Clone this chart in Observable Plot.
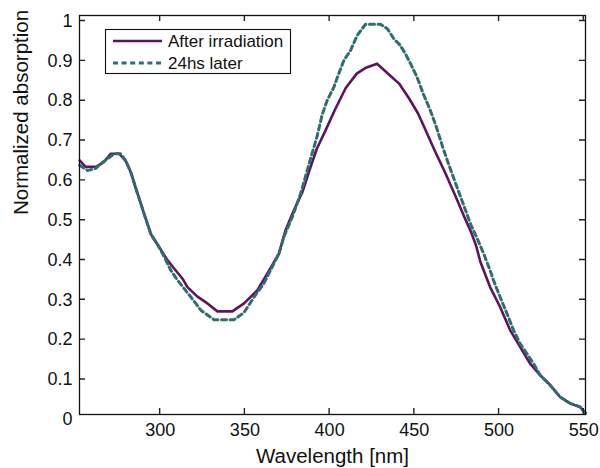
<!DOCTYPE html>
<html><head><meta charset="utf-8">
<script src="https://cdn.jsdelivr.net/npm/d3@7"></script>
<script src="https://cdn.jsdelivr.net/npm/@observablehq/plot@0.6"></script>
<style>body{margin:0;background:#fff;}</style>
</head><body><div id="chart"></div>
<script>
// ---- data ----
const seriesNames = ["After irradiation", "24hs later"];
const wlIrr  = [252.5,256,262,266.8,270.9,275.8,279.8,282.7,286.7,290.6,294.5,299,304.4,308,313.2,316.1,322,327.9,333.8,342.6,349.5,357.4,363.2,370.1,374,378.9,383.9,388.5,392.5,397,403,409.5,416,421,428,435,441,447,452.2,456,462,468,474,479.5,483.5,486.5,489,494.7,500.6,506.5,512.4,518.3,524.2,530.1,536,541.9,547.8,551];
const absIrr = [0.650,0.634,0.634,0.646,0.667,0.667,0.648,0.620,0.566,0.515,0.465,0.435,0.399,0.380,0.353,0.332,0.308,0.291,0.271,0.271,0.291,0.324,0.366,0.416,0.475,0.525,0.570,0.630,0.680,0.720,0.776,0.832,0.868,0.882,0.893,0.866,0.843,0.805,0.768,0.732,0.675,0.621,0.563,0.508,0.470,0.435,0.395,0.332,0.282,0.224,0.182,0.140,0.111,0.086,0.056,0.040,0.031,0.015];
const wl24   = [252.5,257.2,262,265,272.9,276.8,279.8,282.7,286.7,290.6,294.5,299,302.4,306.3,310.3,318.1,324,331.8,343.6,349.5,355.4,361.2,367.1,370.1,373,378,382.9,385.8,388.8,392.7,395.6,398.6,402.5,405.4,408.4,412.3,416.3,419.2,421.2,430,434,438,441.5,444.7,448,451.5,455.5,459.5,463,467,471.2,475.5,479.5,483.5,487.5,491,494.7,496.7,500.6,504.6,508.5,512.4,516.4,520.3,524.2,530.1,536,541.9,547.8,551];
const abs24  = [0.638,0.625,0.630,0.642,0.667,0.667,0.648,0.620,0.566,0.515,0.465,0.435,0.408,0.374,0.349,0.307,0.274,0.250,0.250,0.268,0.307,0.341,0.391,0.416,0.458,0.508,0.567,0.610,0.655,0.712,0.765,0.801,0.834,0.868,0.901,0.926,0.964,0.981,0.992,0.992,0.981,0.955,0.940,0.918,0.891,0.860,0.815,0.775,0.734,0.680,0.629,0.579,0.533,0.487,0.450,0.415,0.374,0.349,0.307,0.266,0.224,0.190,0.165,0.140,0.111,0.086,0.056,0.040,0.031,0.015];
const xTicks = [300,350,400,450,500,550];
const yTicks = [0,0.1,0.2,0.3,0.4,0.5,0.6,0.7,0.8,0.9,1];
const xLabel = "Wavelength [nm]";
const yLabel = "Normalized absorption";

// ---- layout / style ----
const W = 600, H = 468;
const mT = 15, mR = 15, mB = 54, mL = 79;
const colIrr = "#5e1262", col24 = "#2e6e6e";
const font = "'Liberation Sans', Arial, Helvetica, sans-serif";
const tickLen = 6;
const xDom = [252.4, 551], yDom = [0.012, 1.014];
const xs = d3.scaleLinear(xDom, [mL, W - mR]);
const ys = d3.scaleLinear(yDom, [H - mB, mT]);

const irr = wlIrr.map((w, i) => ({w, a: absIrr[i]}));
const later = wl24.map((w, i) => ({w, a: abs24[i]}));

const chart = Plot.plot({
  width: W, height: H,
  marginTop: mT, marginRight: mR, marginBottom: mB, marginLeft: mL,
  style: {fontFamily: font, background: "#fff", color: "#111"},
  x: {domain: xDom},
  y: {domain: yDom},
  marks: [
    Plot.line(irr, {x: "w", y: "a", stroke: colIrr, strokeWidth: 2.6}),
    Plot.line(later, {x: "w", y: "a", stroke: col24, strokeWidth: 3, strokeDasharray: "5,3.6"}),
    Plot.frame({stroke: "#111", strokeWidth: 1.3}),
    Plot.axisX({ticks: xTicks, anchor: "bottom", tickSize: 0, tickPadding: 9, fontSize: 18, label: null, tickFormat: d => String(d)}),
    Plot.axisY({ticks: yTicks, anchor: "left", tickSize: 0, tickPadding: 7, fontSize: 18, label: null, tickFormat: d => String(d)}),
    Plot.text([xLabel], {frameAnchor: "bottom", dy: 34, lineAnchor: "top", fontSize: 20.5, fill: "#111"}),
    Plot.text([yLabel], {frameAnchor: "left", dx: -58, rotate: -90, fontSize: 20.5, fill: "#111"})
  ]
});

const svgEl = chart.tagName.toLowerCase() === "svg" ? chart : chart.querySelector("svg");
const svg = d3.select(svgEl);
const ns = "http://www.w3.org/2000/svg";

// ---- inward tick marks on all four sides (scale from Plot if available) ----
let px = xs, py = ys;
try {
  const sx = chart.scale("x"), sy = chart.scale("y");
  if (sx && typeof sx.apply === "function" && isFinite(sx.apply(300))) { px = v => sx.apply(v); py = v => sy.apply(v); }
} catch (e) {}
const xL = px(xDom[0]), xR = px(xDom[1]);
const yB = py(yDom[0]), yT = py(yDom[1]);
let d = "";
xTicks.forEach(v => {
  const x = px(v);
  d += `M${x},${yB}V${yB - tickLen}M${x},${yT}V${yT + tickLen}`;
});
yTicks.filter(v => v > yDom[0]).forEach(v => {
  const y = py(v);
  d += `M${xL},${y}H${xL + tickLen}M${xR},${y}H${xR - tickLen}`;
});
const tp = document.createElementNS(ns, "path");
tp.setAttribute("d", d);
tp.setAttribute("fill", "none");
tp.setAttribute("stroke", "#222");
tp.setAttribute("stroke-width", "1.4");
svgEl.appendChild(tp);

// ---- legend (inside the plot, top-left) ----
const lg = svg.append("g").attr("font-family", font).attr("font-size", 17).attr("text-anchor", "start");
lg.append("rect").attr("x", 105.5).attr("y", 29.5).attr("width", 185).attr("height", 44)
  .attr("fill", "#fff").attr("stroke", "#111").attr("stroke-width", 1.1);
const rows = [
  {name: seriesNames[0], color: colIrr, dash: null, sw: 2.6, y: 41},
  {name: seriesNames[1], color: col24, dash: "5,3.6", sw: 3, y: 63}
];
rows.forEach(r => {
  lg.append("line").attr("x1", 113).attr("x2", 162).attr("y1", r.y).attr("y2", r.y)
    .attr("stroke", r.color).attr("stroke-width", r.sw).attr("stroke-dasharray", r.dash);
  lg.append("text").attr("x", 168).attr("y", r.y).attr("dy", "0.35em").attr("fill", "#111")
    .attr("text-anchor", "start").text(r.name);
});

document.getElementById("chart").appendChild(chart);
</script>
</body></html>
